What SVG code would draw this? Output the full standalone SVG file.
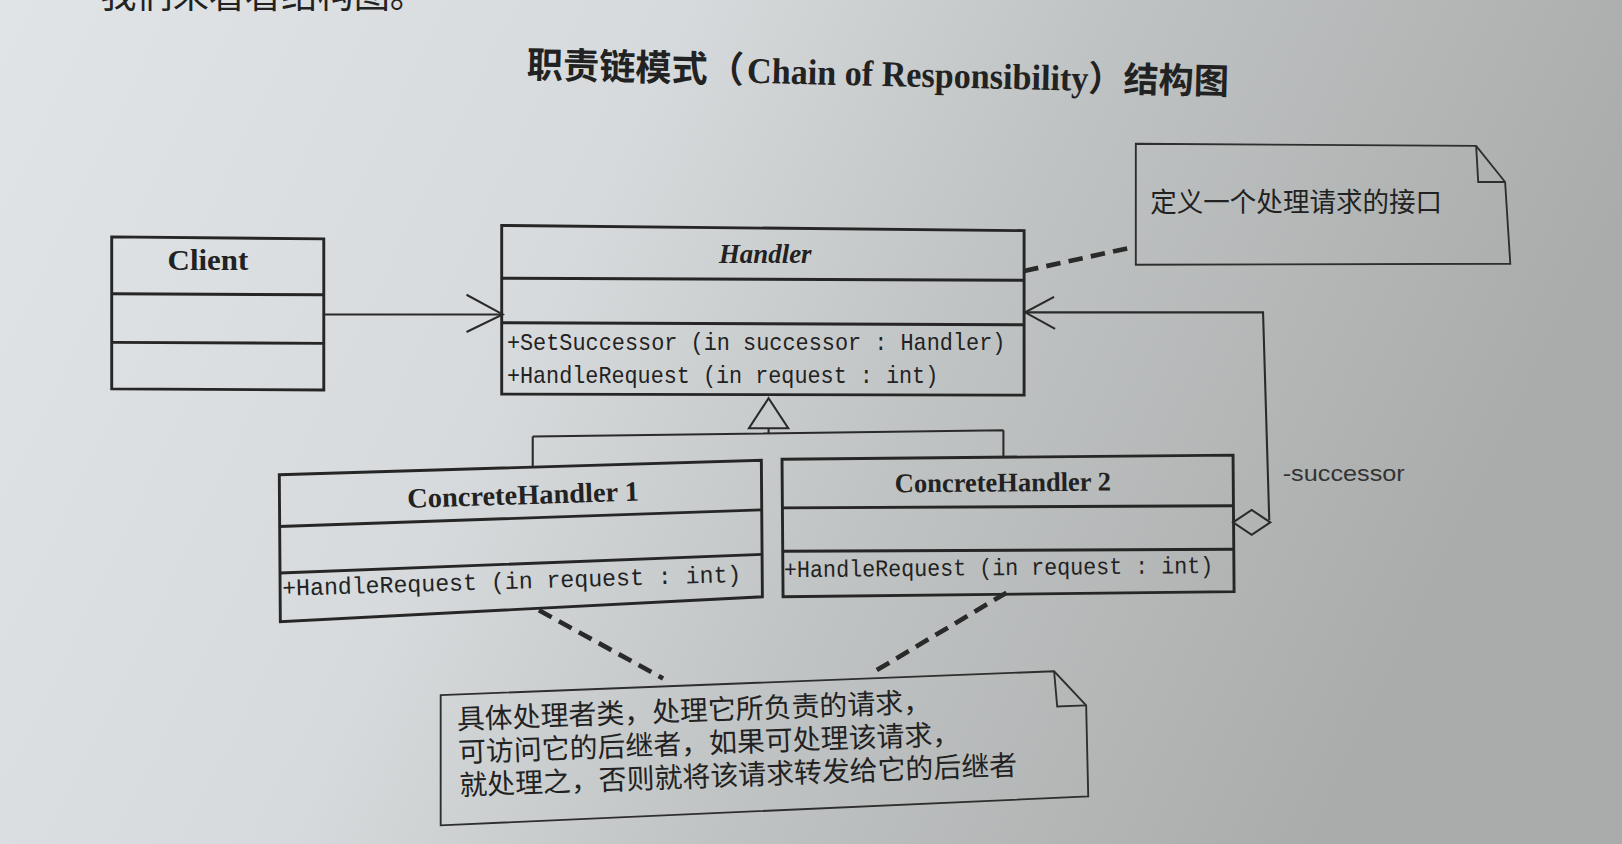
<svg xmlns="http://www.w3.org/2000/svg" width="1622" height="844" viewBox="0 0 1622 844">
<defs>
<linearGradient id="bg" x1="0" y1="0" x2="1" y2="0.25">
<stop offset="0" stop-color="#e0e4e7"/>
<stop offset="0.4" stop-color="#d6dadc"/>
<stop offset="0.65" stop-color="#c0c3c3"/>
<stop offset="1" stop-color="#a9acab"/>
</linearGradient>
<style>
.box{fill:none;stroke:#262626;stroke-width:2.8;stroke-linejoin:miter}
.thin{fill:none;stroke:#2a2a2a;stroke-width:2}
.note{fill:none;stroke:#2e2e2e;stroke-width:1.8}
.dash{fill:none;stroke:#2a2a2a;stroke-width:4.5;stroke-dasharray:14 8}
.name{font-family:"Liberation Serif",serif;font-weight:bold;fill:#222}
.op{font-family:"Liberation Mono",monospace;font-size:23px;fill:#222}
.cjk{font-family:"Noto Sans CJK SC",sans-serif;fill:#222}
.lbl{font-family:"Liberation Sans",sans-serif;font-size:22px;fill:#333}
</style>
</defs>
<rect x="0" y="0" width="1622" height="844" fill="url(#bg)"/>
<g transform="scale(1.03444,1.03431)">
<g id="page-text">
<text class="cjk" x="97" y="8" font-size="35">我们来看看结构图。</text>
</g>
<g id="title" transform="rotate(1.35,509,75)">
<text class="cjk" x="509" y="75" font-size="35" font-weight="bold">职责链模式（</text>
<text class="name" x="722" y="75" font-size="35" textLength="330" lengthAdjust="spacingAndGlyphs">Chain of Responsibility</text>
<text class="cjk" x="1052" y="75" font-size="34" font-weight="bold">）结构图</text>
</g>
<g id="client">
<path class="box" d="M108,229 L313,231 L313,377 L108,376 Z"/>
<path class="box" d="M108,284 L313,285 M108,331 L313,332"/>
<text class="name" x="162" y="261" font-size="28" textLength="78" lengthAdjust="spacingAndGlyphs">Client</text>
</g>
<g id="handler">
<path class="box" d="M485,218 L990,223 L990,382 L485,381 Z"/>
<path class="box" d="M485,269 L990,271 M485,312 L990,314"/>
<text class="name" x="695" y="254" font-size="26" font-style="italic">Handler</text>
<text class="op" x="490" y="338" textLength="482" lengthAdjust="spacingAndGlyphs">+SetSuccessor (in successor  : Handler)</text>
<text class="op" x="490" y="370" textLength="417" lengthAdjust="spacingAndGlyphs">+HandleRequest (in request  : int)</text>
</g>
<g id="concreteHandler1">
<path class="box" d="M270,459 L736,445 L737,577 L271,601 Z"/>
<path class="box" d="M270,509 L736,493 M271,554 L737,536"/>
<text class="name" x="394" y="491" font-size="27" textLength="224" lengthAdjust="spacingAndGlyphs" transform="rotate(-1.8,394,491)">ConcreteHandler 1</text>
<text class="op" x="273" y="576" textLength="444" lengthAdjust="spacingAndGlyphs" transform="rotate(-1.74,273,576)">+HandleRequest (in request  : int)</text>
</g>
<g id="concreteHandler2">
<path class="box" d="M756,444 L1192,440 L1193,572 L757,577 Z"/>
<path class="box" d="M756,491 L1192,489 M757,533 L1193,531"/>
<text class="name" x="865" y="476" font-size="26" textLength="209" lengthAdjust="spacingAndGlyphs" transform="rotate(-0.5,865,476)">ConcreteHandler 2</text>
<text class="op" x="758" y="558" textLength="415" lengthAdjust="spacingAndGlyphs" transform="rotate(-0.55,758,558)">+HandleRequest (in request  : int)</text>
</g>
<g id="note1">
<path class="note" d="M1098,139 L1427,141 L1455,176 L1460,255 L1098,256 Z"/>
<path class="note" d="M1427,141 L1429,176 L1455,176"/>
<text class="cjk" x="1112" y="205" font-size="26" textLength="282" lengthAdjust="spacingAndGlyphs">定义一个处理请求的接口</text>
</g>
<g id="note2">
<path class="note" d="M426,672 L1019,649 L1050,682 L1052,770 L426,798 Z"/>
<path class="note" d="M1019,649 L1022,683 L1050,682"/>
<g transform="rotate(-2.1,442,705)">
<text class="cjk" x="442" y="705" font-size="27">具体处理者类，处理它所负责的请求，</text>
<text class="cjk" x="442" y="737" font-size="27">可访问它的后继者，如果可处理该请求，</text>
<text class="cjk" x="442" y="769" font-size="27">就处理之，否则就将该请求转发给它的后继者</text>
</g>
</g>
<g id="connectors">
<path class="thin" d="M313,304 L485,304"/>
<path class="thin" d="M451,285 L486,304 L451,321"/>
<path class="thin" d="M743,385 L762,414 L724,414 Z"/>
<path class="thin" d="M743,414 L743,419 M515,422 L970,416 M515,422 L515,452 M970,416 L970,442"/>
<path class="thin" d="M1192,505 L1210,493 L1228,505 L1210,517 Z"/>
<path class="thin" d="M1227,503 L1221,302 L991,302"/>
<path class="thin" d="M1019,287 L991,302 L1020,318"/>
<text class="lbl" x="1240" y="465" textLength="118" lengthAdjust="spacingAndGlyphs">-successor</text>
<path class="dash" d="M990,262 L1095,239"/>
<path class="dash" d="M521,590 L641,656"/>
<path class="dash" d="M973,573 L844,650"/>
</g>
</g>
</svg>
